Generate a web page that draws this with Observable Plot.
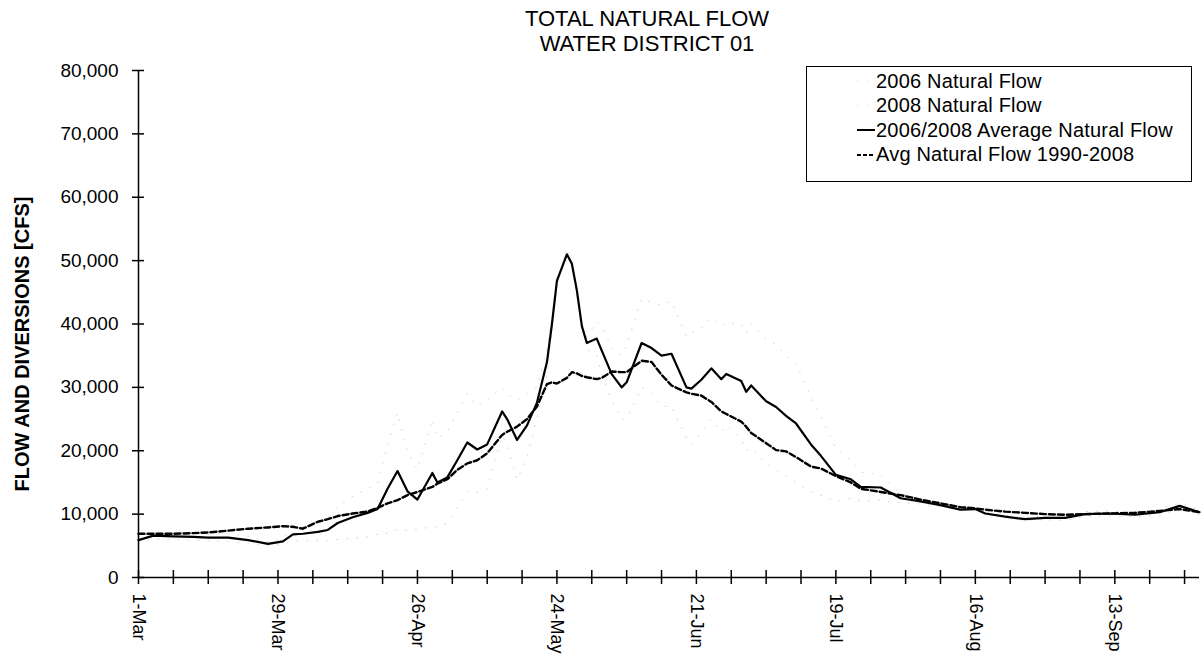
<!DOCTYPE html>
<html>
<head>
<meta charset="utf-8">
<script src="https://cdn.jsdelivr.net/npm/d3@7"></script>
<script src="https://cdn.jsdelivr.net/npm/@observablehq/plot@0.6"></script>
<style>
  html, body { margin: 0; padding: 0; background: #fff; }
  #wrap { position: relative; width: 1204px; height: 660px; overflow: hidden; font-family: "Liberation Sans", Arial, sans-serif; color: #000; }
  #title { position: absolute; left: 447px; top: 6px; width: 400px; text-align: center; font-size: 22px; line-height: 25px; }
  #legend { position: absolute; left: 806px; top: 66px; width: 384px; height: 114px; border: 1px solid #000; background: #fff; }
  .row { position: absolute; left: 0; height: 24px; display: flex; align-items: center; font-size: 20px; letter-spacing: 0.2px; white-space: nowrap; }
  .row svg { margin-left: 50px; margin-right: 1px; }
</style>
</head>
<body>
<div id="wrap">
  <div id="chart"></div>
  <div id="title">TOTAL NATURAL FLOW<br>WATER DISTRICT 01</div>
  <div id="legend"></div>
</div>
<script>
// Day offsets from 1-Mar
const days = [0,3,7,11,14,18,22,26,29,31,33,36,38,40,43,46,48,50,52,54,56,59,60,62,64,66,68,70,73,74,76,78,80,82,83,84,86,87,88,89,90,92,93,95,97,98,101,103,105,107,110,111,113,115,117,118,121,122,123,126,128,130,132,135,137,140,143,145,149,153,157,161,165,168,170,174,178,182,186,190,195,200,205,209,213];
// 2006/2008 Average Natural Flow (cfs)
const avg0608 = [5900,6600,6500,6400,6300,6300,5900,5300,5700,6800,6900,7200,7500,8600,9500,10200,10800,14000,16800,13600,12300,16500,15000,15800,18500,21300,20200,21000,26200,25000,21700,24000,27600,34000,40000,46800,51000,49500,45300,39700,37000,37700,35800,32100,30000,30800,37000,36200,35000,35300,30000,29800,31200,33000,31300,32100,31000,29300,30300,27800,26900,25500,24300,21000,19200,16200,15500,14300,14200,12500,12000,11400,10700,10800,10100,9600,9200,9400,9400,10000,10100,9900,10300,11300,10300];
// Avg Natural Flow 1990-2008 (cfs)
const avg9008 = [6900,6900,6900,7000,7100,7400,7700,7900,8100,8000,7700,8800,9200,9700,10100,10400,11000,11700,12200,13000,13500,14300,14800,15500,17000,18000,18500,19600,22500,23000,23800,25000,27000,30500,30800,30600,31500,32400,32200,31800,31600,31300,31500,32500,32400,32400,34200,34000,32000,30300,29200,29000,28700,27700,26200,25800,24600,23800,22800,21200,20100,19900,19000,17500,17200,16000,15000,14000,13500,13000,12300,11700,11100,10900,10700,10400,10200,10000,9900,10000,10100,10200,10500,10800,10300];
// 2006 Natural Flow (faint, estimated)
const flow2006 = [6400,7100,7000,6900,6800,6900,6500,5600,6200,7800,8000,8600,9200,11200,12800,14000,14800,21000,26000,19800,17000,25000,22000,23000,26000,29000,27000,28000,30000,29000,28000,29000,30000,36000,41000,46000,52000,50000,46000,40000,36000,35000,32000,28000,25000,25000,30000,29000,27000,27000,22000,21000,23000,25000,23000,24000,22000,20000,20500,18000,17000,16000,15000,13500,13000,12000,12500,12000,12200,11800,11600,11200,10800,10700,10200,9800,9400,9700,9800,10400,10500,10200,10800,11800,10700];
// 2008 Natural Flow (faint, estimated)
const flow2008 = [5400,6100,6000,5900,5800,5700,5300,5000,5200,5800,5800,5800,5800,6000,6200,6400,6800,7000,7600,7400,7600,8000,8000,8600,11000,13600,13400,14000,22400,21000,15400,19000,25200,32000,39000,47600,50000,49000,44600,39400,38000,40400,39600,36200,35000,36600,44000,43400,43000,43600,38000,38600,39400,41000,39600,40200,40000,38600,40100,37600,36800,35000,33600,28500,25400,20400,18500,16600,16200,13200,12400,11600,10600,10900,10000,9400,9000,9100,9000,9600,9700,9600,9800,10800,9900];
const yTickValues = [0,10000,20000,30000,40000,50000,60000,70000,80000];
const xLabelDays = [0,28,56,84,112,140,168,196];
const xTickDays = d3.range(0, 211, 7);
const seriesNames = ["2006 Natural Flow","2008 Natural Flow","2006/2008 Average Natural Flow","Avg Natural Flow 1990-2008"];

const toDate = d => new Date(Date.UTC(2008, 2, 1 + d));
const rows = days.map((d, i) => ({date: toDate(d), f06: flow2006[i], f08: flow2008[i], avg: avg0608[i], hist: avg9008[i]}));

const faint = {stroke: "#d6d6d6", strokeWidth: 1, strokeDasharray: "1,9"};

const chart = Plot.plot({
  width: 1204, height: 660,
  marginLeft: 138, marginRight: 5, marginTop: 70, marginBottom: 83,
  x: {type: "utc", domain: [toDate(0), toDate(213)]},
  y: {domain: [0, 80000]},
  style: {fontFamily: "'Liberation Sans', Arial, sans-serif", color: "#000", background: "#fff", overflow: "visible"},
  marks: [
    Plot.axisY({ticks: yTickValues, tickSize: 0, tickPadding: 20, tickFormat: d3.format(","), fontSize: 19, label: null}),
    Plot.axisX({ticks: xLabelDays.map(toDate), tickSize: 0, tickPadding: 16, tickRotate: 90, tickFormat: d3.utcFormat("%-d-%b"), fontSize: 18, label: null}),
    Plot.line(rows, {x: "date", y: "f06", ...faint}),
    Plot.line(rows, {x: "date", y: "f08", ...faint}),
    Plot.line(rows, {x: "date", y: "hist", stroke: "#000", strokeWidth: 2.4, strokeDasharray: "6,3"}),
    Plot.line(rows, {x: "date", y: "avg", stroke: "#000", strokeWidth: 2.2}),
    Plot.ruleY([0], {stroke: "#000", strokeWidth: 1.5}),
    Plot.ruleX([0], {x: () => toDate(0), y1: 0, y2: 80000, stroke: "#000", strokeWidth: 1.5}),
    Plot.ruleX(xTickDays, {x: d => toDate(d), y1: 0, y2: 0, insetTop: -7, insetBottom: -7, stroke: "#000", strokeWidth: 1.5}),
    Plot.ruleY(yTickValues, {y: d => d, x1: () => toDate(0), x2: () => toDate(0), insetLeft: -6, insetRight: -6, stroke: "#000", strokeWidth: 1.5}),
    Plot.text(["FLOW AND DIVERSIONS [CFS]"], {frameAnchor: "left", textAnchor: "middle", dx: -116, dy: 20, rotate: -90, fontWeight: "bold", fontSize: 20})
  ]
});
document.getElementById("chart").appendChild(chart);

// Legend
const legend = document.getElementById("legend");
const styles = [
  {stroke: "#d6d6d6", width: 1, dash: "1,9"},
  {stroke: "#d6d6d6", width: 1, dash: "1,9"},
  {stroke: "#000", width: 2, dash: null},
  {stroke: "#000", width: 2, dash: "4,2"}
];
const rowTops = [2, 26.5, 51, 75.5];
seriesNames.forEach((name, i) => {
  const r = document.createElement("div");
  r.className = "row";
  r.style.top = rowTops[i] + "px";
  const s = styles[i];
  r.innerHTML = `<svg width="18" height="10"><line x1="0" x2="18" y1="5" y2="5" stroke="${s.stroke}" stroke-width="${s.width}" ${s.dash ? `stroke-dasharray="${s.dash}"` : ""}/></svg><span>${name}</span>`;
  legend.appendChild(r);
});
</script>
</body>
</html>
